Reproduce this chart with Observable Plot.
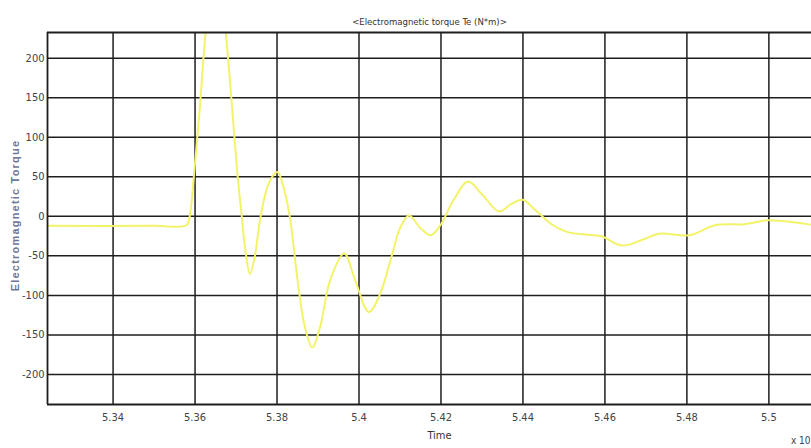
<!DOCTYPE html>
<html>
<head>
<meta charset="utf-8">
<script src="https://cdn.jsdelivr.net/npm/d3@7"></script>
<script src="https://cdn.jsdelivr.net/npm/@observablehq/plot@0.6"></script>
<style>
  html, body { margin: 0; padding: 0; background: #fff; overflow: hidden; }
  #chart svg { display: block; }
</style>
</head>
<body>
<div id="chart"></div>
<script>
const title = "<Electromagnetic torque Te (N*m)>";
const xLabel = "Time";
const yLabel = "Electromagnetic Torque";
const exponentLabel = "x 10";

const xTicks = [5.34, 5.36, 5.38, 5.40, 5.42, 5.44, 5.46, 5.48, 5.50];
const xTickLabels = ["5.34", "5.36", "5.38", "5.4", "5.42", "5.44", "5.46", "5.48", "5.5"];
const yTicks = [-200, -150, -100, -50, 0, 50, 100, 150, 200];
const yTickLabels = ["-200", "-150", "-100", "-50", "0", "50", "100", "150", "200"];

const time = [5.3240, 5.3500, 5.3580, 5.3587, 5.3597, 5.3612, 5.3626, 5.3640, 5.3652, 5.3664,
  5.3675, 5.3690, 5.3704, 5.3714, 5.3722, 5.3734, 5.3746, 5.3760, 5.3780, 5.3801,
  5.3815, 5.3831, 5.3850, 5.3868, 5.3886, 5.3905, 5.3930, 5.3964, 5.3990, 5.4024,
  5.4050, 5.4080, 5.4100, 5.4122, 5.4150, 5.4175, 5.4200, 5.4230, 5.4266, 5.4300,
  5.4342, 5.4370, 5.4399, 5.4430, 5.4470, 5.4509, 5.4550, 5.4590, 5.4642, 5.4690,
  5.4732, 5.4806, 5.4870, 5.4939, 5.4996, 5.5033, 5.5102];
const torque = [-12, -12, -11, 0, 50, 140, 232, 280, 295, 280,
  232, 140, 50, 0, -40, -73, -50, 0, 42, 56,
  38, 0, -80, -140, -166, -140, -80, -47, -80, -121,
  -100, -50, -15, 1, -15, -24, -10, 20, 44, 28,
  6, 15, 21, 8, -10, -20, -23, -25, -37, -30,
  -22, -24, -11, -10, -5, -6, -10.5];

const data = time.map((t, i) => ({t, v: torque[i]}));
const xDomain = [5.324, 5.5104];
const yDomain = [-238, 232.5];
const gridColor = "#1e1e1e";
const narrow = "'DejaVu Sans Condensed', 'Liberation Sans Narrow', sans-serif";

const chart = Plot.plot({
  width: 811,
  height: 448,
  marginLeft: 47,
  marginTop: 32,
  marginBottom: 44,
  marginRight: 0,
  style: {background: "#fff", fontFamily: narrow},
  x: {domain: xDomain},
  y: {domain: yDomain},
  marks: [
    Plot.ruleX(xTicks, {stroke: gridColor, strokeWidth: 1.5}),
    Plot.ruleY(yTicks, {stroke: gridColor, strokeWidth: 1.5}),
    Plot.line(data, {x: "t", y: "v", curve: "catmull-rom", stroke: "#f3f36a", strokeWidth: 2, clip: true}),
    Plot.ruleX([xDomain[0]], {stroke: gridColor, strokeWidth: 1.8}),
    Plot.ruleY([yDomain[0], yDomain[1]], {stroke: gridColor, strokeWidth: 1.8}),
    Plot.axisX(xTicks, {tickSize: 0, tickPadding: 9, tickFormat: (d, i) => xTickLabels[i], fontSize: 11, fill: "#444", label: null}),
    Plot.axisY(yTicks, {tickSize: 0, tickPadding: 3, tickFormat: (d, i) => yTickLabels[i], fontSize: 11, fill: "#444", label: null}),
    Plot.text([title], {frameAnchor: "top", dy: -14, fontSize: 9.5, fill: "#333", fontFamily: narrow}),
    Plot.text([xLabel], {frameAnchor: "bottom", dy: 34, dx: 10, fontSize: 11, fill: "#333", fontFamily: narrow}),
    Plot.text([exponentLabel], {frameAnchor: "bottom-right", dy: 39, dx: -1, textAnchor: "end", fontSize: 10, fill: "#444", fontFamily: narrow}),
    Plot.text([yLabel], {frameAnchor: "left", dx: -32, dy: -3, rotate: -90, textAnchor: "middle", fontSize: 11, fontWeight: "bold", fill: "#6a7898", fontFamily: "'Liberation Sans', Arial, sans-serif"})
  ]
});
chart.querySelectorAll("text").forEach(t => { if (t.textContent === yLabel) t.style.letterSpacing = "1.2px"; });
document.getElementById("chart").appendChild(chart);
</script>
</body>
</html>
